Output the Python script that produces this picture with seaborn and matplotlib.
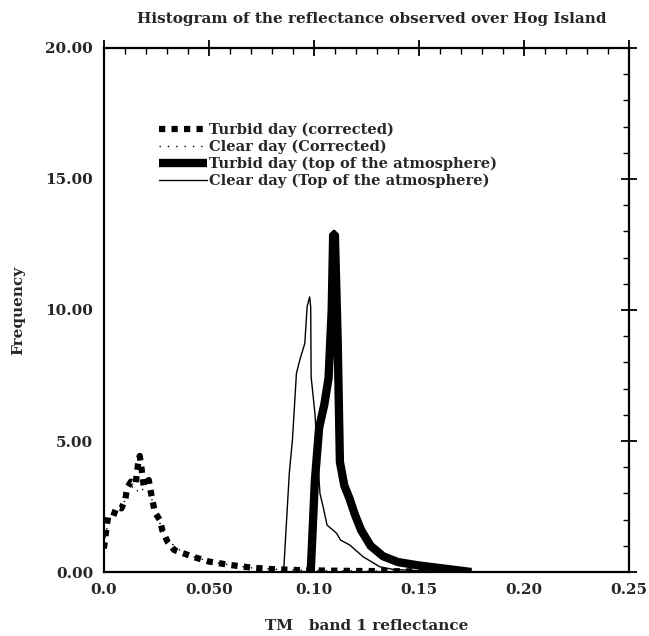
import numpy as np
import pandas as pd
import seaborn as sns
import matplotlib
matplotlib.use("Agg")
import matplotlib.pyplot as plt
from matplotlib.ticker import MultipleLocator, FixedLocator, FixedFormatter

# ---------------- data ----------------
turbid_corr_x = [0.0, 0.0006, 0.0013, 0.002, 0.0044, 0.006, 0.0084, 0.0103, 0.011, 0.0129,
                 0.0152, 0.0156, 0.0163, 0.0171, 0.0178, 0.0184, 0.019, 0.0214, 0.0222, 0.0232,
                 0.0243, 0.0267, 0.0279, 0.0303, 0.0335, 0.038, 0.0433, 0.05, 0.06, 0.07,
                 0.08, 0.09, 0.10, 0.12, 0.14, 0.16, 0.175]
turbid_corr_y = [0.9, 1.22, 1.73, 2.09, 2.11, 2.47, 2.43, 2.81, 3.19, 3.45,
                 3.36, 3.70, 4.11, 4.43, 4.05, 3.64, 3.28, 3.51, 3.13, 2.71,
                 2.28, 1.98, 1.58, 1.16, 0.84, 0.71, 0.56, 0.40, 0.27, 0.17,
                 0.11, 0.08, 0.06, 0.04, 0.03, 0.02, 0.01]

clear_corr_x = [0.0, 0.002, 0.005, 0.008, 0.011, 0.014, 0.017, 0.019, 0.022, 0.025,
                0.028, 0.032, 0.038, 0.045, 0.055, 0.07, 0.085, 0.10, 0.12, 0.15, 0.175]
clear_corr_y = [1.0, 1.9, 2.2, 2.4, 2.9, 3.3, 3.0, 3.2, 3.0, 2.2,
                1.6, 1.1, 0.72, 0.52, 0.33, 0.16, 0.09, 0.06, 0.04, 0.02, 0.01]

turbid_toa_x = [0.0985, 0.1005, 0.1025, 0.105, 0.107, 0.1085, 0.1092, 0.1100, 0.1113, 0.1124,
                0.1145, 0.117, 0.1195, 0.1225, 0.127, 0.133, 0.14, 0.15, 0.16, 0.17, 0.175]
turbid_toa_y = [0.0, 3.5, 5.5, 6.4, 7.4, 10.0, 12.9, 12.9, 9.0, 4.2,
                3.3, 2.8, 2.2, 1.6, 1.0, 0.6, 0.38, 0.25, 0.15, 0.05, 0.0]

clear_toa_x = [0.0857, 0.0883, 0.0898, 0.0917, 0.0933, 0.0957, 0.0968, 0.0980, 0.0985, 0.0987,
               0.1005, 0.1029, 0.1044, 0.1063, 0.1108, 0.1127, 0.1171, 0.1235, 0.1314, 0.1378,
               0.15, 0.16, 0.17]
clear_toa_y = [0.14, 3.77, 5.04, 7.58, 8.09, 8.73, 10.13, 10.5, 10.1, 7.45,
               6.06, 3.0, 2.49, 1.79, 1.48, 1.22, 1.03, 0.58, 0.2, 0.1,
               0.05, 0.02, 0.0]

labels = ["Turbid day (corrected)", "Clear day (Corrected)",
          "Turbid day (top of the atmosphere)", "Clear day (Top of the atmosphere)"]

x_ticks = [0.0, 0.05, 0.10, 0.15, 0.20, 0.25]
x_ticklabels = ["0.0", "0.050", "0.10", "0.15", "0.20", "0.25"]
y_ticks = [0.0, 5.0, 10.0, 15.0, 20.0]
y_ticklabels = ["0.00", "5.00", "10.00", "15.00", "20.00"]

# ---------------- plot ----------------
sns.set_style("white")
plt.rcParams['font.family'] = ['DejaVu Serif']
plt.rcParams['font.weight'] = 'bold'

fig = plt.figure(figsize=(6.49, 6.36), dpi=100)
ax = fig.add_axes([0.160, 0.1006, 0.809, 0.824])

df1 = pd.DataFrame({"x": turbid_corr_x, "y": turbid_corr_y})
df2 = pd.DataFrame({"x": clear_corr_x, "y": clear_corr_y})
df3 = pd.DataFrame({"x": turbid_toa_x, "y": turbid_toa_y})
df4 = pd.DataFrame({"x": clear_toa_x, "y": clear_toa_y})

sns.lineplot(data=df2, x="x", y="y", ax=ax, color="black", linewidth=1.0,
             linestyle=(0, (1, 5)), sort=False, label=labels[1], zorder=2)
sns.lineplot(data=df4, x="x", y="y", ax=ax, color="black", linewidth=1.0,
             sort=False, label=labels[3], zorder=3)
sns.lineplot(data=df3, x="x", y="y", ax=ax, color="black", linewidth=6.0,
             sort=False, label=labels[2], zorder=4,
             solid_capstyle='butt', solid_joinstyle='bevel')
sns.lineplot(data=df1, x="x", y="y", ax=ax, color="black", linewidth=4.5,
             linestyle=(0, (1, 1)), sort=False, label=labels[0], zorder=5,
             dash_capstyle='butt')

ax.set_xlim(0, 0.25)
ax.set_ylim(0, 20)

ax.xaxis.set_major_locator(FixedLocator(x_ticks))
ax.xaxis.set_major_formatter(FixedFormatter(x_ticklabels))
ax.yaxis.set_major_locator(FixedLocator(y_ticks))
ax.yaxis.set_major_formatter(FixedFormatter(y_ticklabels))
ax.xaxis.set_minor_locator(MultipleLocator(0.01))
ax.yaxis.set_minor_locator(MultipleLocator(1.0))

ax.tick_params(which='major', direction='inout', length=11.5, width=1.3,
               top=True, right=True, labelsize=11, pad=2, color='black')
ax.tick_params(which='minor', direction='in', length=4.5, width=1.0,
               top=True, right=True, color='black')
for lab in ax.get_xticklabels() + ax.get_yticklabels():
    lab.set_fontweight('bold')

for s in ax.spines.values():
    s.set_linewidth(1.6)
    s.set_color('black')

ax.set_xlabel("TM   band 1 reflectance", fontsize=11, fontweight='bold', labelpad=16)
ax.set_ylabel("Frequency", fontsize=11, fontweight='bold', labelpad=14)
ax.set_title("Histogram of the reflectance observed over Hog Island",
             fontsize=11, fontweight='bold', pad=0, x=0.51, y=1.047)

h, l = ax.get_legend_handles_labels()
order = [l.index(t) for t in labels]
leg = ax.legend([h[i] for i in order], [l[i] for i in order],
                loc='upper left', bbox_to_anchor=(0.105, 0.857),
                frameon=False, borderpad=0, borderaxespad=0,
                handlelength=3.3, handletextpad=0.15, labelspacing=0.17,
                prop={'family': 'DejaVu Serif', 'weight': 'bold', 'size': 10.5})

fig.savefig("out.png", dpi=100)
